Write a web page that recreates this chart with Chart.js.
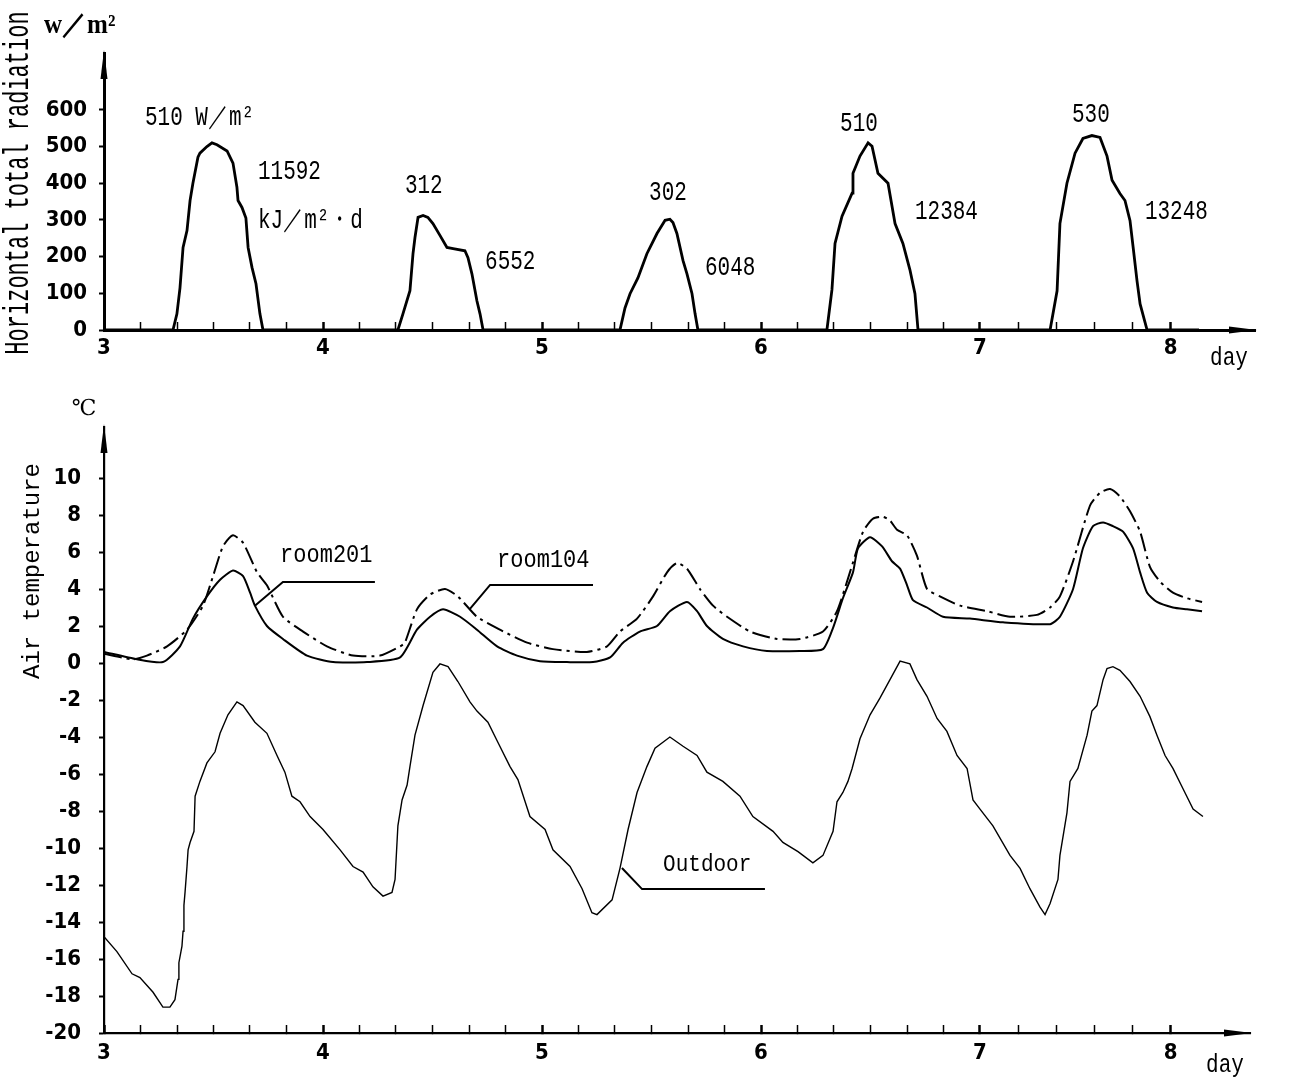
<!DOCTYPE html>
<html>
<head>
<meta charset="utf-8">
<script src="https://cdn.jsdelivr.net/npm/chart.js@4.4.1/dist/chart.umd.min.js"></script>
<style>
  html, body { margin: 0; padding: 0; background: #ffffff; }
  #wrap { position: relative; width: 1302px; height: 1090px; overflow: hidden; }
  canvas { position: absolute; left: 0; }
  #radChart { top: 0; }
  #tempChart { top: 385px; }
</style>
</head>
<body>
<div id="wrap">
  <canvas id="radChart" width="1302" height="385"></canvas>
  <canvas id="tempChart" width="1302" height="705"></canvas>
</div>
<script>
// ===================== DATA =====================
// x axis: day number; tick labels as printed
const dayTickValues = [3, 4, 5, 6, 7, 7.87];
const dayTickLabels = ['3', '4', '5', '6', '7', '8'];
const minorTicksPerDay = [6, 6, 6, 6, 5];

// Horizontal total radiation (W/m2)
const radTicks = [0, 100, 200, 300, 400, 500, 600];
const radDay = [3.000,3.315,3.333,3.347,3.361,3.379,3.393,3.406,3.429,3.438,3.470,3.493,3.516,3.562,3.589,3.607,3.612,3.630,3.648,3.658,3.676,3.694,3.712,3.726,
  4.342,4.365,4.397,4.411,4.420,4.434,4.457,4.479,4.502,4.534,4.566,4.594,4.648,4.662,4.680,4.703,4.717,4.731,
  5.356,5.379,5.402,5.438,5.479,5.525,5.562,5.584,5.598,5.616,5.644,5.662,5.685,5.699,5.712,
  6.301,6.324,6.338,6.370,6.416,6.420,6.452,6.489,6.507,6.534,6.580,6.612,6.648,6.680,6.703,6.717,
  7.320,7.352,7.365,7.397,7.434,7.470,7.511,7.548,7.580,7.603,7.639,7.662,7.685,7.699,7.717,7.731,7.763,8.000];
const radWm2 = [0,0,44,115,225,271,353,400,471,482,500,510,505,488,455,389,353,334,305,225,170,126,44,0,
  0,44,107,208,252,307,312,307,290,258,225,222,216,197,153,79,44,0,
  0,60,99,142,208,263,299,302,293,263,189,153,99,44,0,
  0,110,236,310,373,427,474,510,501,427,400,290,236,164,99,0,
  0,107,290,400,482,522,530,525,474,408,372,353,298,227,134,71,0,0];
const peakLabels = ['510 W／m²', '312', '302', '510', '530'];
const dailyTotals = ['11592', '6552', '6048', '12384', '13248'];
const dailyTotalUnit = 'kJ／m²・d';

// Air temperature (°C)
const tempTicks = [-20,-18,-16,-14,-12,-10,-8,-6,-4,-2,0,2,4,6,8,10];
const outdoorDay = [3.000,3.059,3.128,3.164,3.224,3.269,3.301,3.324,3.338,3.342,
  3.356,3.361,3.365,3.370,3.379,3.384,3.393,3.411,3.416,3.438,
  3.470,3.507,3.530,3.566,3.607,3.635,3.689,3.744,3.790,3.826,
  3.858,3.895,3.941,4.000,4.078,4.137,4.183,4.228,4.274,4.315,
  4.329,4.342,4.361,4.384,4.397,4.420,4.457,4.502,4.534,4.571,
  4.616,4.671,4.703,4.753,4.799,4.854,4.890,4.945,5.014,5.050,
  5.128,5.183,5.228,5.251,5.320,5.356,5.393,5.434,5.479,5.516,
  5.584,5.644,5.708,5.753,5.826,5.904,5.963,6.055,6.100,6.169,
  6.237,6.283,6.329,6.347,6.374,6.397,6.416,6.452,6.498,6.543,
  6.589,6.635,6.680,6.712,6.758,6.804,6.849,6.895,6.941,6.968,
  7.000,7.059,7.137,7.183,7.228,7.274,7.297,7.320,7.356,7.365,
  7.397,7.411,7.447,7.489,7.511,7.534,7.562,7.580,7.607,7.639,
  7.685,7.731,7.776,7.808,7.845,7.881,7.927,7.973,8.018];
const outdoorTemp = [-14.8,-15.6,-16.8,-17.0,-17.8,-18.6,-18.6,-18.2,-17.1,-16.2,
  -15.3,-14.5,-13.1,-12.4,-11.0,-10.1,-9.7,-9.1,-7.2,-6.4,
  -5.4,-4.8,-3.8,-2.8,-2.1,-2.3,-3.2,-3.8,-5.0,-5.9,
  -7.2,-7.5,-8.3,-9.0,-10.1,-11.0,-11.3,-12.1,-12.6,-12.4,
  -11.7,-8.8,-7.4,-6.6,-5.6,-3.9,-2.3,-0.5,-0.05,-0.2,
  -1.0,-2.1,-2.6,-3.2,-4.3,-5.6,-6.3,-8.3,-9.0,-10.1,
  -11.0,-12.2,-13.5,-13.6,-12.8,-11.1,-9.0,-7.0,-5.6,-4.6,
  -4.0,-4.5,-5.0,-5.9,-6.4,-7.2,-8.3,-9.1,-9.7,-10.2,
  -10.8,-10.4,-9.1,-7.5,-7.0,-6.4,-5.7,-4.1,-2.8,-1.9,
  -0.9,0.1,-0.05,-0.9,-1.8,-3.0,-3.7,-5.0,-5.7,-7.4,
  -7.9,-8.8,-10.4,-11.1,-12.2,-13.2,-13.6,-13.0,-11.7,-10.4,
  -8.1,-6.4,-5.7,-3.9,-2.6,-2.3,-0.9,-0.3,-0.2,-0.4,
  -1.0,-1.8,-2.9,-3.9,-5.0,-5.7,-6.8,-7.9,-8.3];
const room201Day = [3.000,3.151,3.269,3.347,3.406,3.470,3.530,3.589,3.635,3.667,
  3.689,3.744,3.817,3.927,4.046,4.201,4.352,4.429,4.489,4.548,
  4.626,4.703,4.795,4.886,4.991,5.114,5.233,5.311,5.370,5.447,
  5.525,5.584,5.662,5.708,5.753,5.826,5.918,6.027,6.178,6.283,
  6.329,6.374,6.420,6.443,6.498,6.553,6.598,6.635,6.667,6.694,
  6.758,6.831,6.954,7.105,7.320,7.365,7.425,7.470,7.516,7.562,
  7.607,7.653,7.699,7.731,7.763,7.808,7.881,7.945,8.014];
const room201Temp = [0.6,0.2,0.05,0.9,2.4,3.6,4.5,5.0,4.7,3.8,
  3.1,2.0,1.3,0.4,0.05,0.05,0.3,1.8,2.5,2.9,
  2.5,1.8,0.9,0.4,0.1,0.05,0.05,0.3,1.1,1.7,
  2.0,2.8,3.3,2.8,2.0,1.3,0.9,0.65,0.65,0.75,
  1.9,3.5,4.9,6.2,6.8,6.3,5.5,5.1,4.2,3.4,
  3.0,2.5,2.4,2.2,2.1,2.5,4.0,6.2,7.4,7.6,
  7.4,7.1,6.2,4.9,3.8,3.3,3.0,2.9,2.8];
const room104Day = [3.000,3.132,3.196,3.288,3.379,3.452,3.498,3.543,3.589,3.635,
  3.699,3.744,3.817,3.909,4.018,4.137,4.260,4.352,4.374,4.429,
  4.489,4.557,4.616,4.703,4.808,4.932,5.050,5.205,5.297,5.356,
  5.434,5.507,5.571,5.616,5.662,5.721,5.781,5.845,5.950,6.073,
  6.178,6.283,6.347,6.406,6.466,6.511,6.557,6.589,6.621,6.667,
  6.712,6.758,6.817,6.909,7.032,7.137,7.260,7.320,7.365,7.425,
  7.502,7.548,7.594,7.639,7.685,7.731,7.776,7.822,7.881,7.945,8.014];
const room104Temp = [0.5,0.2,0.4,0.9,1.8,3.1,4.7,6.3,6.9,6.5,
  4.9,4.2,2.5,1.7,0.9,0.4,0.4,0.9,1.1,2.9,
  3.7,4.0,3.6,2.5,1.8,1.1,0.75,0.6,0.9,1.7,
  2.4,3.6,4.9,5.4,5.1,4.0,3.1,2.5,1.7,1.3,
  1.3,1.7,2.8,4.9,7.1,7.8,7.9,7.7,7.2,6.9,
  5.8,4.0,3.6,3.1,2.8,2.5,2.6,3.0,3.6,5.5,
  8.5,9.2,9.4,9.0,8.2,7.1,5.2,4.4,3.8,3.5,3.3];
const seriesNames = ['room201', 'room104', 'Outdoor'];

// ===================== STYLE / LAYOUT =====================
const MONO = "'Liberation Mono','DejaVu Sans Mono',monospace";
const NARROW = "'DejaVu Sans Condensed','Liberation Sans Narrow','Liberation Sans',sans-serif";
const SERIF = "'Liberation Serif','DejaVu Serif',serif";
const TICK_FONT = { family: NARROW, size: 22, weight: 'bold', lineHeight: 1.2 };

function pts(xs, ys) { return xs.map((x, i) => ({ x: x, y: ys[i] })); }
function dayTickList() {
  const out = [];
  for (let i = 0; i < dayTickValues.length - 1; i++) {
    const a = dayTickValues[i], b = dayTickValues[i + 1], n = minorTicksPerDay[i];
    for (let k = 0; k < n; k++) out.push(a + (b - a) * k / n);
  }
  out.push(dayTickValues[dayTickValues.length - 1]);
  return out;
}
function majorIndex(v) { return dayTickValues.findIndex(d => Math.abs(d - v) < 1e-6); }

function dayAxis(maxDay, axisHeight, labelPad, borderW) {
  return {
    type: 'linear', min: 3, max: maxDay,
    afterBuildTicks: s => { s.ticks = dayTickList().map(v => ({ value: v })); },
    afterFit: s => { s.height = axisHeight; },
    ticks: {
      autoSkip: false, maxRotation: 0, minRotation: 0, color: '#000', font: TICK_FONT, padding: labelPad,
      callback: v => { const i = majorIndex(v); return i >= 0 ? dayTickLabels[i] : ''; }
    },
    grid: {
      drawOnChartArea: false, drawTicks: true, tickLength: -8, tickColor: '#000',
      tickWidth: c => (c.tick && majorIndex(c.tick.value) >= 0 ? 2.5 : 1.5)
    },
    border: { display: true, color: '#000', width: borderW }
  };
}
function valueAxis(min, max, tickList, labelPad, borderW) {
  return {
    type: 'linear', min: min, max: max,
    afterBuildTicks: s => { s.ticks = tickList.map(v => ({ value: v })); },
    afterFit: s => { s.width = 104; },
    ticks: { color: '#000', font: TICK_FONT, padding: labelPad, callback: v => String(v) },
    grid: { drawOnChartArea: false, drawTicks: true, tickLength: 5, tickColor: '#000', tickWidth: 2 },
    border: { display: true, color: '#000', width: borderW }
  };
}

function drawText(ctx, t, x, y, o) {
  ctx.save();
  ctx.translate(x, y);
  if (o.rotate) ctx.rotate(o.rotate);
  ctx.scale(1, o.stretch || 1);
  ctx.font = o.font;
  ctx.fillStyle = '#000';
  ctx.textAlign = o.align || 'left';
  ctx.textBaseline = 'middle';
  ctx.fillText(t, 0, 0);
  ctx.restore();
}

function decorPlugin(cfg) {
  return {
    id: 'decor',
    afterDraw(chart) {
      const ctx = chart.ctx, xs = chart.scales.x, ys = chart.scales.y, ca = chart.chartArea;
      ctx.save();
      ctx.fillStyle = '#000';
      // axis arrow heads
      ctx.beginPath();
      ctx.moveTo(ca.left, ca.top - 3); ctx.lineTo(ca.left - 3.5, ca.top + 26); ctx.lineTo(ca.left + 3.5, ca.top + 26);
      ctx.closePath(); ctx.fill();
      ctx.beginPath();
      ctx.moveTo(ca.right + 2, ca.bottom); ctx.lineTo(ca.right - 26, ca.bottom - 3.5); ctx.lineTo(ca.right - 26, ca.bottom + 3.5);
      ctx.closePath(); ctx.fill();
      // leader lines (data coordinates)
      ctx.strokeStyle = '#000'; ctx.lineWidth = 2;
      (cfg.leaders || []).forEach(l => {
        ctx.beginPath();
        l.forEach((p, i) => {
          const px = xs.getPixelForValue(p[0]), py = ys.getPixelForValue(p[1]);
          if (i === 0) ctx.moveTo(px, py); else ctx.lineTo(px, py);
        });
        ctx.stroke();
      });
      // data-anchored labels
      (cfg.dataTexts || []).forEach(d => {
        drawText(ctx, d.t, xs.getPixelForValue(d.x), ys.getPixelForValue(d.y), d);
      });
      // fixed labels (units, titles)
      (cfg.texts || []).forEach(d => drawText(ctx, d.t, d.x, d.y, d));
      ctx.restore();
    }
  };
}

const annFont = '21px ' + MONO;
const radDecor = {
  dataTexts: [
    { t: peakLabels[0], x: 3.187, y: 578, font: annFont, stretch: 1.3 },
    { t: dailyTotals[0], x: 3.703, y: 430, font: annFont, stretch: 1.3 },
    { t: dailyTotalUnit, x: 3.703, y: 299, font: annFont, stretch: 1.3 },
    { t: peakLabels[1], x: 4.374, y: 392, font: annFont, stretch: 1.3 },
    { t: dailyTotals[1], x: 4.740, y: 186, font: annFont, stretch: 1.3 },
    { t: peakLabels[2], x: 5.489, y: 373, font: annFont, stretch: 1.3 },
    { t: dailyTotals[2], x: 5.744, y: 170, font: annFont, stretch: 1.3 },
    { t: peakLabels[3], x: 6.361, y: 562, font: annFont, stretch: 1.3 },
    { t: dailyTotals[3], x: 6.703, y: 321, font: annFont, stretch: 1.3 },
    { t: peakLabels[4], x: 7.420, y: 586, font: annFont, stretch: 1.3 },
    { t: dailyTotals[4], x: 7.753, y: 323, font: annFont, stretch: 1.3 }
  ],
  texts: [
    { t: 'w／m²', x: 44, y: 26, font: 'bold 25px ' + SERIF, stretch: 1.1 },
    { t: 'Horizontal total radiation', x: 19, y: 183, rotate: -Math.PI / 2, font: '22px ' + MONO, stretch: 1.6, align: 'center' },
    { t: 'day', x: 1229, y: 358, font: '21px ' + MONO, stretch: 1.2, align: 'center' }
  ]
};
const tempDecor = {
  leaders: [
    [[3.689, 3.1], [3.817, 4.38], [4.237, 4.38]],
    [[4.671, 2.92], [4.763, 4.22], [5.233, 4.22]],
    [[5.365, -11.08], [5.457, -12.22], [6.018, -12.22]]
  ],
  dataTexts: [
    { t: seriesNames[0], x: 3.804, y: 5.8, font: '22px ' + MONO, stretch: 1.15 },
    { t: seriesNames[1], x: 4.795, y: 5.55, font: '22px ' + MONO, stretch: 1.15 },
    { t: seriesNames[2], x: 5.553, y: -10.9, font: '21px ' + MONO, stretch: 1.15 }
  ],
  texts: [
    { t: '℃', x: 84, y: 24, font: '22px ' + SERIF, align: 'center' },
    { t: 'Air temperature', x: 33, y: 186, rotate: -Math.PI / 2, font: '24px ' + MONO, stretch: 1.0, align: 'center' },
    { t: 'day', x: 1225, y: 680, font: '21px ' + MONO, stretch: 1.2, align: 'center' }
  ]
};

// ===================== CHARTS =====================
new Chart(document.getElementById('radChart'), {
  type: 'line',
  data: {
    datasets: [{
      label: 'Horizontal total radiation',
      data: pts(radDay, radWm2),
      borderColor: '#000', borderWidth: 2.8, pointRadius: 0, tension: 0, fill: false
    }]
  },
  options: {
    responsive: false, animation: false, events: [],
    layout: { padding: { left: 0, top: 53, right: 47, bottom: 0 } },
    plugins: { legend: { display: false }, tooltip: { enabled: false } },
    scales: {
      x: dayAxis(3 + 1151 / 219, 55, 13, 3),
      y: valueAxis(0, 755, radTicks, 12, 3)
    }
  },
  plugins: [decorPlugin(radDecor)]
});

new Chart(document.getElementById('tempChart'), {
  type: 'line',
  data: {
    datasets: [
      { label: seriesNames[0], data: pts(room201Day, room201Temp), borderColor: '#000', borderWidth: 2, pointRadius: 0, tension: 0.2, fill: false },
      { label: seriesNames[1], data: pts(room104Day, room104Temp), borderColor: '#000', borderWidth: 2, borderDash: [18, 5, 3, 5], pointRadius: 0, tension: 0.2, fill: false },
      { label: seriesNames[2], data: pts(outdoorDay, outdoorTemp), borderColor: '#000', borderWidth: 1.4, pointRadius: 0, tension: 0, fill: false }
    ]
  },
  options: {
    responsive: false, animation: false, events: [],
    layout: { padding: { left: 0, top: 42, right: 52, bottom: 0 } },
    plugins: { legend: { display: false }, tooltip: { enabled: false } },
    scales: {
      x: dayAxis(3 + 1146 / 219, 57, 15, 2.2),
      y: valueAxis(-20, -20 + 606 / 18.5, tempTicks, 18, 2.2)
    }
  },
  plugins: [decorPlugin(tempDecor)]
});
</script>
</body>
</html>
